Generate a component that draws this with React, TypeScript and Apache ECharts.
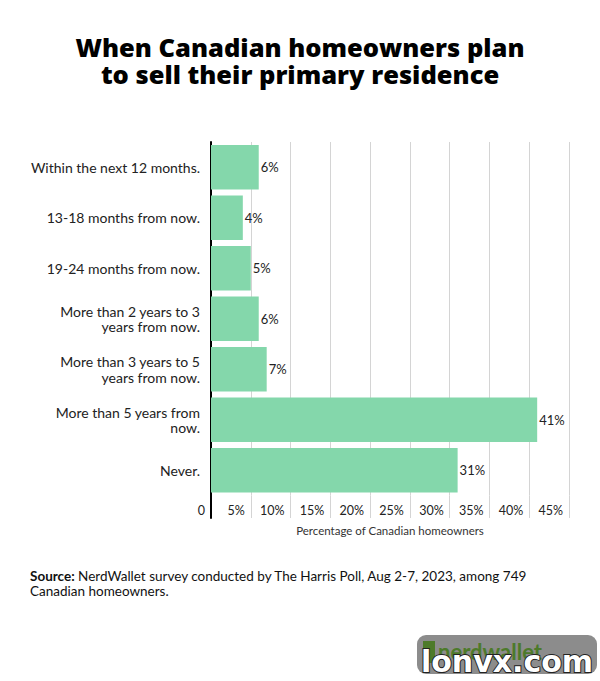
import React, { useEffect, useRef } from "react";
import * as echarts from "echarts";

const titleText = "When Canadian homeowners plan\nto sell their primary residence";
const categories = [
  "Within the next 12 months.",
  "13-18 months from now.",
  "19-24 months from now.",
  "More than 2 years to 3\nyears from now.",
  "More than 3 years to 5\nyears from now.",
  "More than 5 years from\nnow.",
  "Never.",
];
const values = [6, 4, 5, 6, 7, 41, 31];
const axisName = "Percentage of Canadian homeowners";
const sourceLabel = "Source:";
const sourceText = " NerdWallet survey conducted by The Harris Poll, Aug 2-7, 2023, among 749";
const sourceText2 = "Canadian homeowners.";

const FONT = "Lato, 'Open Sans', sans-serif";

export default function App() {
  const ref = useRef<HTMLDivElement>(null);
  useEffect(() => {
    if (!ref.current) return;
    const chart = echarts.init(ref.current, null, { renderer: "svg" });
    const left = 211;
    const width = 358;
    const valAxisCommon = {
      type: "value" as const,
      min: 0,
      max: 45,
      interval: 5,
      axisTick: { show: false },
      axisLine: { show: false },
      splitLine: { show: true, lineStyle: { color: "#d4d4d4", width: 1 } },
    };
    chart.setOption({
      animation: false,
      backgroundColor: "#ffffff",
      textStyle: { fontFamily: FONT },
      title: {
        text: titleText,
        left: "center",
        top: 28,
        textStyle: {
          fontFamily: "'Open Sans', sans-serif",
          fontWeight: 800,
          fontSize: 25.5,
          lineHeight: 27,
          color: "#000",
        },
      },
      grid: [
        { left, width, top: 142, height: 353.5 },
        { left, width, top: 495.5, height: 22.5 },
      ],
      xAxis: [
        { ...valAxisCommon, gridIndex: 0, axisLabel: { show: false } },
        {
          ...valAxisCommon,
          gridIndex: 1,
          axisLabel: {
            show: true,
            inside: true,
            margin: 8,
            align: "right",
            verticalAlign: "middle",
            padding: [0, 6, 0, 0],
            fontSize: 12.5,
            color: "#222",
            fontFamily: FONT,
            formatter: (v: number) => (v === 0 ? "0" : v + "%"),
          },
          name: axisName,
          nameLocation: "middle",
          nameGap: 6,
          nameTextStyle: { fontSize: 11.5, color: "#333", fontFamily: FONT, verticalAlign: "top" },
        },
      ],
      yAxis: [
        {
          type: "category",
          gridIndex: 0,
          inverse: true,
          data: categories,
          axisTick: { show: false },
          axisLine: { show: true, lineStyle: { color: "#000", width: 2 } },
          axisLabel: {
            margin: 11,
            fontSize: 14,
            lineHeight: 15.5,
            color: "#222",
            fontFamily: FONT,
            align: "right",
          },
        },
        {
          type: "category",
          gridIndex: 1,
          data: [""],
          axisTick: { show: false },
          axisLine: { show: true, lineStyle: { color: "#000", width: 2 } },
          axisLabel: { show: false },
        },
      ],
      series: [
        {
          type: "bar",
          xAxisIndex: 0,
          yAxisIndex: 0,
          data: values,
          barCategoryGap: "11.5%",
          itemStyle: { color: "#84d7ab" },
          label: {
            show: true,
            position: "right",
            distance: 2,
            fontSize: 13,
            color: "#222",
            fontFamily: FONT,
            formatter: (p: any) => p.value + "%",
          },
        },
      ],
      graphic: [
        {
          type: "text",
          left: 30,
          top: 569,
          style: {
            text: "{b|" + sourceLabel + "}{n|" + sourceText + "}\n{n|" + sourceText2 + "}",
            rich: {
              b: { fontWeight: "bold", fontSize: 13.5, fontFamily: FONT, fill: "#111", lineHeight: 15 },
              n: { fontSize: 13.5, fontFamily: FONT, fill: "#111", lineHeight: 15 },
            },
          },
        },
        {
          type: "rect",
          shape: { x: 417, y: 635, width: 180, height: 39, r: 9 },
          style: { fill: "#8c8c8c" },
        },
        {
          type: "rect",
          shape: { x: 423, y: 641, width: 12, height: 22 },
          style: { fill: "#4d7a2a" },
        },
        {
          type: "text",
          x: 438,
          y: 640,
          style: {
            text: "nerdwallet",
            fontSize: 22,
            fontWeight: "bold",
            fontFamily: FONT,
            fill: "#4d7a2a",
          },
        },
        {
          type: "text",
          x: 507,
          y: 661,
          style: {
            text: "lonvx.com",
            align: "center",
            verticalAlign: "middle",
            fontSize: 30,
            fontWeight: "bold",
            fontFamily: "'DejaVu Sans', sans-serif",
            fill: "#ffffff",
            stroke: "#222",
            lineWidth: 2,
          },
        },
      ],
    });
    return () => chart.dispose();
  }, []);
  return (
    <div
      ref={ref}
      style={{ position: "fixed", left: 0, top: 0, width: 600, height: 681 }}
    />
  );
}
